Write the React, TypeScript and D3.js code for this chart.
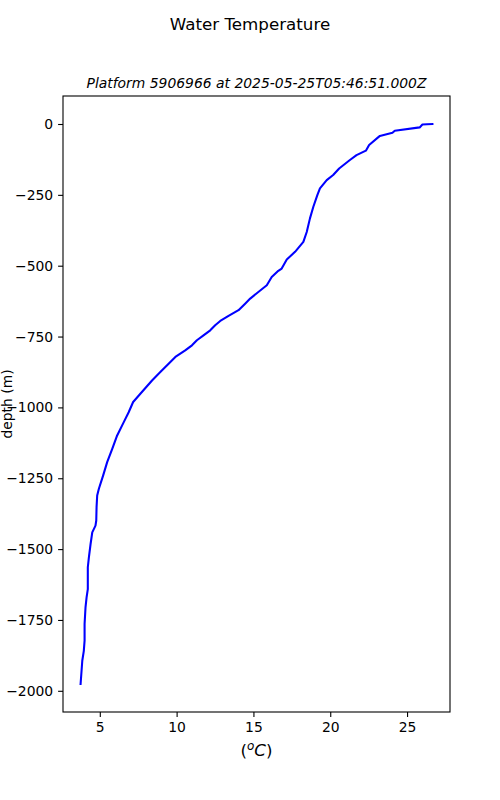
import React, { useEffect, useRef } from "react";
import * as d3 from "d3";

// profile (deg C vs depth in m)
const temperature = [
  26.65, 26.3, 26.0, 25.82, 24.2, 24.05, 23.23, 22.53, 22.32, 21.71, 21.28, 20.58, 20.19, 19.77,
  19.33, 19.16, 18.9, 18.68, 18.47, 18.25, 17.71, 17.17, 16.84, 16.62, 16.19, 15.87, 15.32, 14.79,
  14.46, 14.03, 13.38, 12.84, 12.51, 12.19, 11.75, 11.32, 11.0, 10.56, 9.92, 9.48, 8.94, 8.4, 7.64,
  7.17, 6.88, 6.56, 6.13, 5.81, 5.48, 5.22, 4.94, 4.83, 4.79, 4.77, 4.72, 4.51, 4.4, 4.29, 4.22,
  4.22, 4.14, 4.07, 4.01, 4.01, 3.96, 3.86, 3.75,
];
const depth = [
  0, -1, -2, -12, -24, -31, -42, -74, -94, -110, -127, -157, -180, -198, -227, -251, -292, -333,
  -381, -416, -451, -478, -510, -518, -540, -569, -593, -616, -634, -657, -677, -695, -710, -728,
  -746, -763, -781, -799, -822, -846, -875, -905, -952, -981, -1017, -1052, -1099, -1146, -1193,
  -1240, -1287, -1311, -1352, -1399, -1417, -1441, -1482, -1529, -1564, -1641, -1670, -1706, -1764,
  -1823, -1859, -1894, -1976,
];
const xTicks = [5, 10, 15, 20, 25];
const yTicks = [0, -250, -500, -750, -1000, -1250, -1500, -1750, -2000];

const title = "Water Temperature";
const subtitle = "Platform 5906966 at 2025-05-25T05:46:51.000Z";

const App = () => {
  const svgEl = useRef<SVGSVGElement | null>(null);

  useEffect(() => {
    if (!svgEl.current) return;
    drawChartOn(svgEl.current);
  }, []);

  return (
    <svg
      ref={svgEl}
      width={500}
      height={800}
      style={{ position: "absolute", left: 0, top: 0, background: "#fff" }}
    ></svg>
  );
};

function drawChartOn(svgEl: SVGSVGElement) {
  const svg = d3.select(svgEl);
  svg.selectAll("*").remove();
  const font = "DejaVu Sans, sans-serif";
  const margin = { top: 96, right: 50, bottom: 88, left: 63 };
  const width = 500 - margin.left - margin.right;
  const height = 800 - margin.top - margin.bottom;

  const data = temperature.map((t, i) => ({ t, d: depth[i] }));

  // matplotlib style 5% padding on each side
  const [tMin, tMax] = d3.extent(temperature) as [number, number];
  const [dMin, dMax] = d3.extent(depth) as [number, number];
  const tPad = (tMax - tMin) * 0.05;
  const dPad = (dMax - dMin) * 0.05;

  const x = d3.scaleLinear().domain([tMin - tPad, tMax + tPad]).range([0, width]);
  const y = d3.scaleLinear().domain([dMin - dPad, dMax + dPad]).range([height, 0]);

  svg
    .append("text")
    .attr("x", 250)
    .attr("y", 30)
    .attr("text-anchor", "middle")
    .attr("font-family", font)
    .attr("font-size", 16.7)
    .text(title);

  const g = svg.append("g").attr("transform", "translate(" + margin.left + "," + margin.top + ")");

  g.append("text")
    .attr("x", width / 2)
    .attr("y", -8.5)
    .attr("text-anchor", "middle")
    .attr("font-family", font)
    .attr("font-style", "italic")
    .attr("font-size", 13.9)
    .text(subtitle);

  const line = d3
    .line<{ t: number; d: number }>()
    .x((p) => x(p.t))
    .y((p) => y(p.d));

  g.append("path")
    .datum(data)
    .attr("fill", "none")
    .attr("stroke", "#0000ff")
    .attr("stroke-width", 2.08)
    .attr("stroke-linejoin", "round")
    .attr("stroke-linecap", "square")
    .attr("d", line);

  const fmt = (v: number) => (v < 0 ? "\u2212" + Math.abs(v) : String(v));

  const xAxis = g
    .append("g")
    .attr("transform", "translate(0," + height + ")")
    .call(d3.axisBottom(x).tickValues(xTicks).tickSize(4.9).tickPadding(4.9).tickFormat((v) => fmt(+v)));
  const yAxis = g
    .append("g")
    .call(d3.axisLeft(y).tickValues(yTicks).tickSize(4.9).tickPadding(4.9).tickFormat((v) => fmt(+v)));

  [xAxis, yAxis].forEach((a) => {
    a.select(".domain").remove();
    a.selectAll("line").attr("stroke", "#000").attr("stroke-width", 1.1);
    a.selectAll("text").attr("font-family", font).attr("font-size", 13.9).attr("fill", "#000");
  });

  g.append("rect")
    .attr("width", width)
    .attr("height", height)
    .attr("fill", "none")
    .attr("stroke", "#000")
    .attr("stroke-width", 1.1);

  const xl = g
    .append("text")
    .attr("x", width / 2)
    .attr("y", height + 44)
    .attr("text-anchor", "middle")
    .attr("font-family", font)
    .attr("font-size", 16.7);
  xl.append("tspan").text("(");
  xl.append("tspan").attr("font-style", "italic").attr("font-size", 12).attr("dy", -6).text("o");
  xl.append("tspan").attr("font-style", "italic").attr("dy", 6).text("C");
  xl.append("tspan").text(")");

  svg
    .append("text")
    .attr("transform", "translate(" + 11.5 + "," + (margin.top + height / 2) + ") rotate(-90)")
    .attr("text-anchor", "middle")
    .attr("font-family", font)
    .attr("font-size", 13.9)
    .text("depth (m)");
}

export default App;
